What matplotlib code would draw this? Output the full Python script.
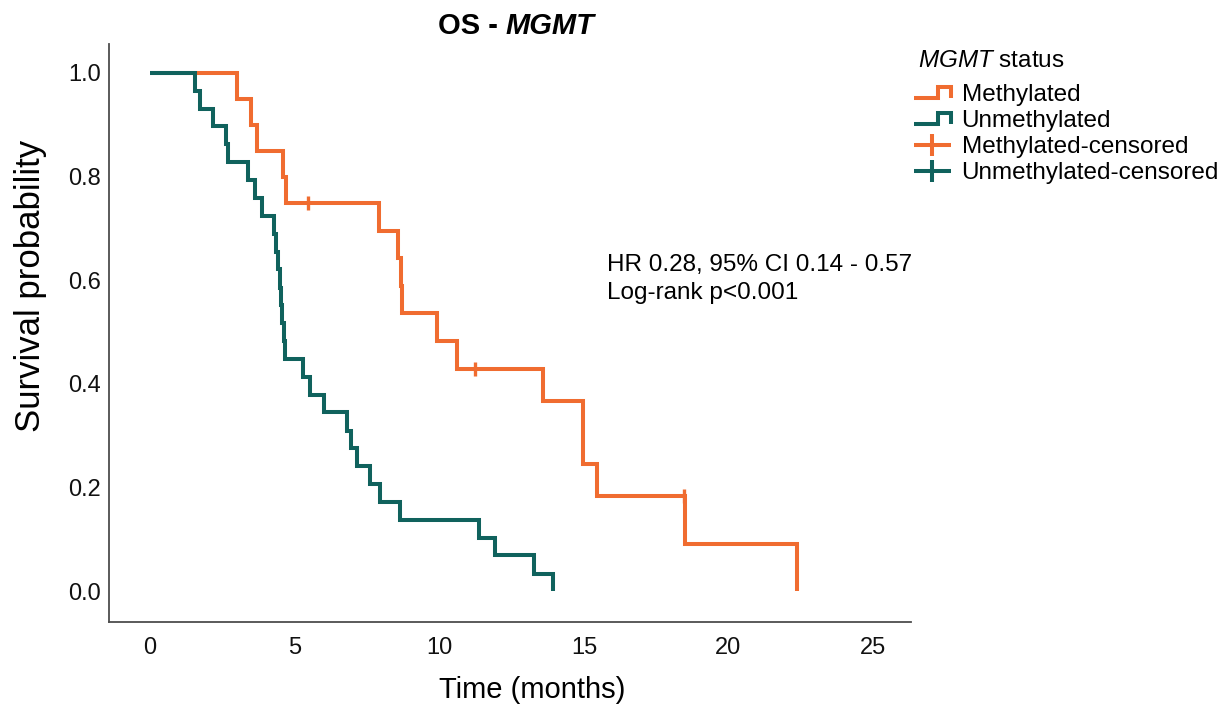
""" Kaplan-Meier curves, overall survival by MGMT status
"""

import matplotlib
matplotlib.use("Agg")
import matplotlib.pyplot as plt
from matplotlib.legend_handler import HandlerBase
from matplotlib.lines import Line2D

# step data (months, survival probability)
meth_time = [0, 3.0, 3.5, 3.7, 4.6, 4.7, 7.92, 8.59, 8.68, 8.72, 9.91, 10.63,
             13.6, 14.96, 14.98, 15.47, 18.5, 22.36]
meth_surv = [1.0, 0.95, 0.90, 0.85, 0.80, 0.75, 0.696, 0.643, 0.589, 0.536,
             0.482, 0.429, 0.367, 0.306, 0.245, 0.184, 0.092, 0.0]
meth_cens_time = [5.47, 11.24, 18.45]
meth_cens_surv = [0.75, 0.429, 0.184]

unmeth_time = [0, 1.56, 1.73, 2.17, 2.63, 2.71, 3.40, 3.63, 3.86, 4.28,
               4.37, 4.43, 4.48, 4.53, 4.57, 4.62, 4.67, 5.30, 5.53, 6.02,
               6.82, 6.94, 7.17, 7.61, 7.95, 8.64, 11.38, 11.93, 13.29, 13.94]
unmeth_surv = [1.0, 0.966, 0.931, 0.897, 0.862, 0.828, 0.793, 0.759, 0.724,
               0.690, 0.655, 0.621, 0.586, 0.552, 0.517, 0.483, 0.448, 0.414,
               0.379, 0.345, 0.310, 0.276, 0.241, 0.207, 0.172, 0.138, 0.103,
               0.069, 0.034, 0.0]

x_ticks = [0, 5, 10, 15, 20, 25]
y_ticks = [0.0, 0.2, 0.4, 0.6, 0.8, 1.0]

ORANGE = "#F06C30"
TEAL = "#10625D"
LW = 2.9

plt.rcParams['font.family'] = ['Liberation Sans', 'DejaVu Sans']
plt.rcParams['mathtext.fontset'] = 'custom'
plt.rcParams['mathtext.rm'] = 'Liberation Sans'
plt.rcParams['mathtext.it'] = 'Liberation Sans:italic'
plt.rcParams['mathtext.bf'] = 'Liberation Sans:bold'


class StepHandler(HandlerBase):
    # ggplot-like step key
    def create_artists(self, legend, orig_handle, xdescent, ydescent,
                       width, height, fontsize, trans):
        x0, y0 = -xdescent, -ydescent
        xm = x0 + 0.65 * width
        lo, hi = y0 + 0.2 * height, y0 + 0.8 * height
        ln = Line2D([x0, xm, xm, x0 + width, x0 + width], [lo, lo, hi, hi, lo],
                    color=orig_handle.get_color(), lw=LW,
                    solid_joinstyle='miter', solid_capstyle='butt')
        ln.set_transform(trans)
        return [ln]


class CensorHandler(HandlerBase):
    def create_artists(self, legend, orig_handle, xdescent, ydescent,
                       width, height, fontsize, trans):
        x0, y0 = -xdescent, -ydescent
        yc = y0 + 0.5 * height
        ln = Line2D([x0, x0 + width], [yc, yc], color=orig_handle.get_color(),
                    lw=LW, solid_capstyle='butt')
        mk = Line2D([x0 + 0.5 * width], [yc], marker='|', ms=16, mew=LW,
                    color=orig_handle.get_color(), linestyle='none')
        ln.set_transform(trans)
        mk.set_transform(trans)
        return [ln, mk]


fig = plt.figure(figsize=(12.28, 7.09), dpi=100)
ax = fig.add_axes([0.089, 0.123, 0.6526, 0.815])

ax.step(meth_time, meth_surv, where='post', color=ORANGE, lw=LW,
        solid_joinstyle='miter', solid_capstyle='butt', zorder=2)
ax.step(unmeth_time, unmeth_surv, where='post', color=TEAL, lw=LW,
        solid_joinstyle='miter', solid_capstyle='butt', zorder=3)
ax.plot(meth_cens_time, meth_cens_surv, linestyle='none', marker='|',
        ms=10, mew=2.4, color=ORANGE, zorder=4)

ax.set_xlim(-1.41, 26.3)
ax.set_ylim(-0.059, 1.056)
ax.set_xticks(x_ticks)
ax.set_yticks(y_ticks)
ax.set_yticklabels(["%.1f" % v for v in y_ticks])
ax.tick_params(axis='both', length=0, labelsize=17, labelcolor='#111111')
ax.tick_params(axis='x', pad=11)
ax.tick_params(axis='y', pad=6)
for side in ['top', 'right']:
    ax.spines[side].set_visible(False)
for side in ['left', 'bottom']:
    ax.spines[side].set_color('#4d4d4d')
    ax.spines[side].set_linewidth(1.3)

fig.text(532 / 1228, 1 - 690 / 709, "Time (months)", ha='center',
         va='center', fontsize=21)
fig.text(31 / 1228, 1 - 286 / 709, "Survival probability", ha='center',
         va='center', rotation=90, fontsize=25)

# title: "OS - " bold + "MGMT" bold italic
t1 = fig.text(438 / 1228, 1 - 33.5 / 709, "OS -", fontsize=21,
              fontweight='bold', ha='left', va='baseline')
ax.annotate("MGMT", xy=(1, 0), xycoords=t1, xytext=(5.8, 0),
            textcoords='offset points', fontsize=21, fontweight='bold',
            style='italic', ha='left', va='bottom')

ax.text(15.8, 0.650, "HR 0.28, 95% CI 0.14 - 0.57\nLog-rank p<0.001",
        fontsize=17.5, ha='left', va='top', linespacing=1.33)

# legend: title as separate text, entries below
fig.text(918 / 1228, 1 - 61 / 709, r"$\mathit{MGMT}$ status", fontsize=17.5,
         ha='left', va='center')
h_m = Line2D([], [], color=ORANGE)
h_u = Line2D([], [], color=TEAL)
h_mc = Line2D([], [], color=ORANGE)
h_uc = Line2D([], [], color=TEAL)
leg = ax.legend([h_m, h_u, h_mc, h_uc],
                ["Methylated", "Unmethylated", "Methylated-censored",
                 "Unmethylated-censored"],
                handler_map={h_m: StepHandler(), h_u: StepHandler(),
                             h_mc: CensorHandler(), h_uc: CensorHandler()},
                fontsize=17.5, loc='upper left',
                bbox_to_anchor=(0.744, 1 - 84 / 709),
                bbox_transform=fig.transFigure,
                frameon=False, borderpad=0, borderaxespad=0,
                handlelength=1.55, handletextpad=0.42, labelspacing=0.165)

fig.savefig("out.png", dpi=100)
